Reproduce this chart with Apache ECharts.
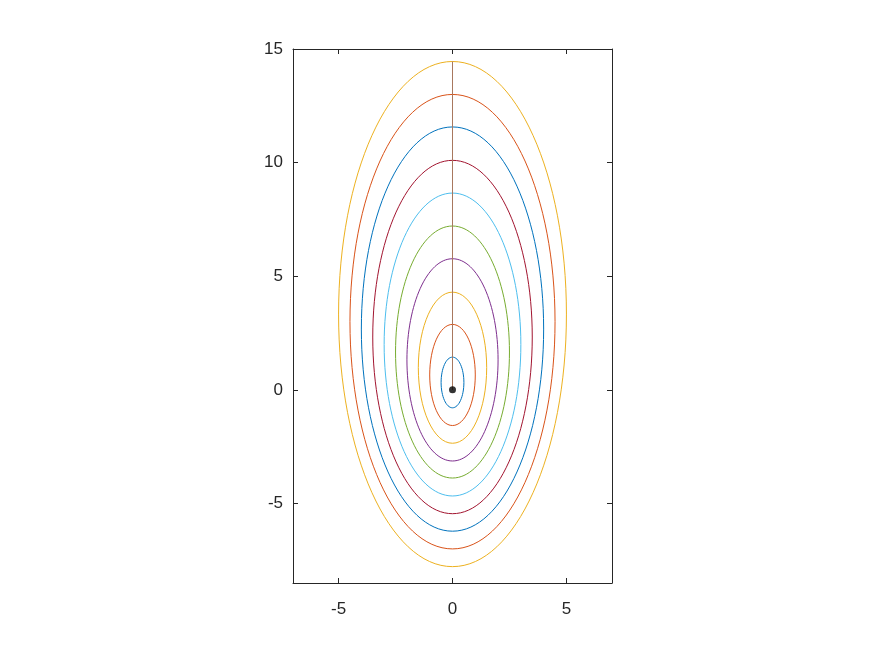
<!DOCTYPE html>
<html>
<head>
<meta charset="utf-8">
<script src="https://cdn.jsdelivr.net/npm/echarts@6/dist/echarts.min.js"></script>
<style>
  html, body { margin: 0; padding: 0; background: #fff; }
  #main { width: 875px; height: 656px; }
</style>
</head>
<body>
<div id="main"></div>
<script>
// orbit ellipses, innermost first
var halfWidths = [0.5, 1.0, 1.5, 2.0, 2.5, 3.0, 3.5, 4.0, 4.5, 5.0];
var tops       = [1.44, 2.88, 4.30, 5.77, 7.21, 8.66, 10.10, 11.57, 13.00, 14.45];
var bottoms    = [-0.79, -1.57, -2.35, -3.13, -3.88, -4.67, -5.45, -6.22, -7.00, -7.78];

// vertical line from the origin and the dot at the origin
var stemX = [0, 0];
var stemY = [0, 14.45];
var dotXY = [0, 0];

// axis ticks
var xTicks = [-5, 0, 5];
var yTicks = [-5, 0, 5, 10, 15];

// matlab default colour order
var palette = ['#0072BD', '#D95319', '#EDB120', '#7E2F8E', '#77AC30',
               '#4DBEEE', '#A2142F', '#0072BD', '#D95319', '#EDB120'];

var axisColor = '#262626';
var font = '"Liberation Sans", Arial, Helvetica, sans-serif';

var ellipseData = halfWidths.map(function (w, i) {
  return [w, tops[i], bottoms[i]];
});

function renderEllipse(params, api) {
  var w = api.value(0), t = api.value(1), b = api.value(2);
  var c = api.coord([0, (t + b) / 2]);
  var s = api.size([w, (t - b) / 2]);
  return {
    type: 'ellipse',
    shape: { cx: c[0], cy: c[1], rx: s[0], ry: s[1] },
    style: { fill: 'none', stroke: palette[params.dataIndex], lineWidth: 1 }
  };
}

function xAxisOpt(pos, labels) {
  return {
    type: 'value', position: pos, min: -7, max: 7,
    axisLine: { onZero: false, lineStyle: { color: axisColor, width: 1 } },
    axisTick: { inside: true, length: 5, customValues: xTicks, lineStyle: { color: axisColor } },
    axisLabel: { show: labels, customValues: xTicks, margin: 18, color: axisColor, fontSize: 17, fontFamily: font },
    splitLine: { show: false }
  };
}

function yAxisOpt(pos, labels) {
  return {
    type: 'value', position: pos, min: -8.5, max: 15,
    axisLine: { onZero: false, lineStyle: { color: axisColor, width: 1 } },
    axisTick: { inside: true, length: 5, customValues: yTicks, lineStyle: { color: axisColor } },
    axisLabel: { show: labels, customValues: yTicks, margin: 10, color: axisColor, fontSize: 17, fontFamily: font },
    splitLine: { show: false }
  };
}

var chart = echarts.init(document.getElementById('main'), null, { renderer: 'canvas' });
chart.setOption({
  animation: false,
  backgroundColor: '#fff',
  grid: { left: 293, top: 49, width: 319, height: 534, containLabel: false },
  xAxis: [xAxisOpt('bottom', true), xAxisOpt('top', false)],
  yAxis: [yAxisOpt('left', true), yAxisOpt('right', false)],
  series: [
    {
      type: 'custom',
      renderItem: renderEllipse,
      data: ellipseData,
      encode: { x: 0, y: [1, 2] },
      z: 2
    },
    {
      type: 'line',
      data: stemX.map(function (x, i) { return [x, stemY[i]]; }),
      symbol: 'none',
      lineStyle: { color: '#A8785E', width: 1 },
      z: 3
    },
    {
      type: 'scatter',
      data: [dotXY],
      symbolSize: 7,
      itemStyle: { color: '#000' },
      z: 4
    }
  ]
});
</script>
</body>
</html>
